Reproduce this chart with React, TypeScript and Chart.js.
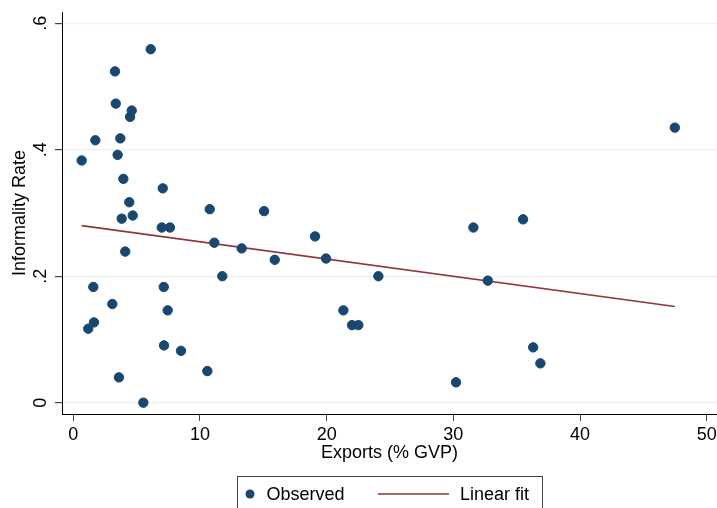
import React, { useEffect, useRef } from "react";
import { Chart, registerables } from "chart.js";

Chart.register(...registerables);

const exportsGvp = [0.66, 1.18, 1.58, 1.63, 1.74, 3.08, 3.29, 3.35, 3.5, 3.6, 3.71, 3.82, 3.95, 4.1, 4.42, 4.61, 4.48, 4.69, 5.53, 6.11, 6.98, 7.06, 7.14, 7.16, 7.45, 7.63, 8.5, 10.58, 10.77, 11.13, 11.76, 13.29, 15.06, 15.9, 19.08, 19.95, 21.32, 22.0, 22.5, 24.08, 30.21, 31.58, 32.72, 35.5, 36.3, 36.87, 47.48];
const informalityRate = [0.383, 0.117, 0.183, 0.127, 0.415, 0.156, 0.524, 0.473, 0.392, 0.040, 0.418, 0.291, 0.354, 0.239, 0.317, 0.462, 0.452, 0.296, 0.0, 0.559, 0.277, 0.339, 0.183, 0.0906, 0.146, 0.277, 0.082, 0.050, 0.306, 0.253, 0.200, 0.244, 0.303, 0.226, 0.263, 0.228, 0.146, 0.1227, 0.1227, 0.200, 0.0322, 0.277, 0.193, 0.290, 0.0875, 0.0622, 0.435];

const fitX = [0.66, 47.48];
const fitY = [0.280, 0.152];

const xTicks = [0, 10, 20, 30, 40, 50];
const yTicks = [0, 0.2, 0.4, 0.6];
const yTickLabels = ["0", ".2", ".4", ".6"];

const FONT = "'Liberation Sans', Arial, Helvetica, sans-serif";
const NAVY = "#1a476f";
const MAROON = "#90353b";

const legendPlugin = {
  id: "stataLegend",
  afterDraw(chart: any) {
    const ctx = chart.ctx;
    const ds = chart.data.datasets;
    ctx.save();
    ctx.strokeStyle = "#444";
    ctx.lineWidth = 1;
    ctx.strokeRect(237.5, 476.5, 305, 40);
    const cy = 494;
    ctx.fillStyle = NAVY;
    ctx.beginPath();
    ctx.arc(250, cy, 4.5, 0, Math.PI * 2);
    ctx.fill();
    ctx.strokeStyle = MAROON;
    ctx.lineWidth = 1.6;
    ctx.beginPath();
    ctx.moveTo(378, cy);
    ctx.lineTo(449, cy);
    ctx.stroke();
    ctx.fillStyle = "#000";
    ctx.font = `18px ${FONT}`;
    ctx.textBaseline = "middle";
    ctx.textAlign = "left";
    ctx.fillText(ds[0].label, 266.5, cy + 1);
    ctx.fillText(ds[1].label, 460, cy + 1);
    ctx.restore();
  },
};

export default function App() {
  const ref = useRef<HTMLCanvasElement | null>(null);
  useEffect(() => {
    document.body.style.margin = "0";
    const canvas = ref.current!;
    const chart = new Chart(canvas, {
      type: "scatter",
      data: {
        datasets: [
          {
            label: "Observed",
            data: exportsGvp.map((x, i) => ({ x, y: informalityRate[i] })),
            backgroundColor: NAVY,
            borderColor: NAVY,
            borderWidth: 1,
            pointRadius: 4.7,
            pointHoverRadius: 4.7,
          },
          {
            type: "line",
            label: "Linear fit",
            data: fitX.map((x, i) => ({ x, y: fitY[i] })),
            borderColor: MAROON,
            borderWidth: 1.6,
            pointRadius: 0,
            fill: false,
          } as any,
        ],
      },
      options: {
        responsive: false,
        animation: false,
        devicePixelRatio: 1,
        layout: { autoPadding: false, padding: { left: 0, right: 0, top: 12, bottom: 42 } },
        plugins: {
          legend: { display: false },
          tooltip: { enabled: false },
        },
        scales: {
          x: {
            type: "linear",
            min: -0.892,
            max: 50.81,
            afterFit: (s: any) => {
              s.height = 52;
              s.paddingLeft = 0;
              s.paddingRight = 0;
            },
            afterBuildTicks: (s: any) => {
              s.ticks = xTicks.map((v) => ({ value: v }));
            },
            grid: {
              drawOnChartArea: false,
              drawTicks: true,
              tickLength: 7,
              tickColor: "#444",
            },
            border: { display: true, color: "#000", width: 1 },
            ticks: {
              color: "#000",
              font: { family: FONT, size: 18 },
              padding: 3,
              maxRotation: 0,
            },
            title: {
              display: true,
              text: "Exports (% GVP)",
              color: "#000",
              font: { family: FONT, size: 18 },
              padding: { top: 0, bottom: 2 },
            },
          },
          y: {
            type: "linear",
            min: -0.0179,
            max: 0.6179,
            afterFit: (s: any) => {
              s.width = 62;
              s.paddingTop = 0;
              s.paddingBottom = 0;
            },
            afterBuildTicks: (s: any) => {
              s.ticks = yTicks.map((v) => ({ value: v }));
            },
            grid: {
              color: "#eaf2f3",
              lineWidth: 1.2,
              drawTicks: true,
              tickLength: 7,
              tickColor: "#444",
            },
            border: { display: true, color: "#000", width: 1 },
            ticks: {
              color: "#000",
              font: { family: FONT, size: 18 },
              padding: 6.5,
              minRotation: 90,
              maxRotation: 90,
              crossAlign: "center",
              callback: (v: any) => {
                const i = yTicks.findIndex((t) => Math.abs(t - Number(v)) < 1e-9);
                return i >= 0 ? yTickLabels[i] : "";
              },
            },
            title: {
              display: true,
              text: "Informality Rate",
              color: "#000",
              font: { family: FONT, size: 18 },
              padding: { top: 9.5, bottom: 0 },
            },
          },
        },
      },
      plugins: [legendPlugin],
    });
    return () => chart.destroy();
  }, []);
  return (
    <div style={{ position: "absolute", left: 0, top: 0, width: 717, height: 508, background: "#fff" }}>
      <canvas ref={ref} width={717} height={508} style={{ display: "block" }} />
    </div>
  );
}
